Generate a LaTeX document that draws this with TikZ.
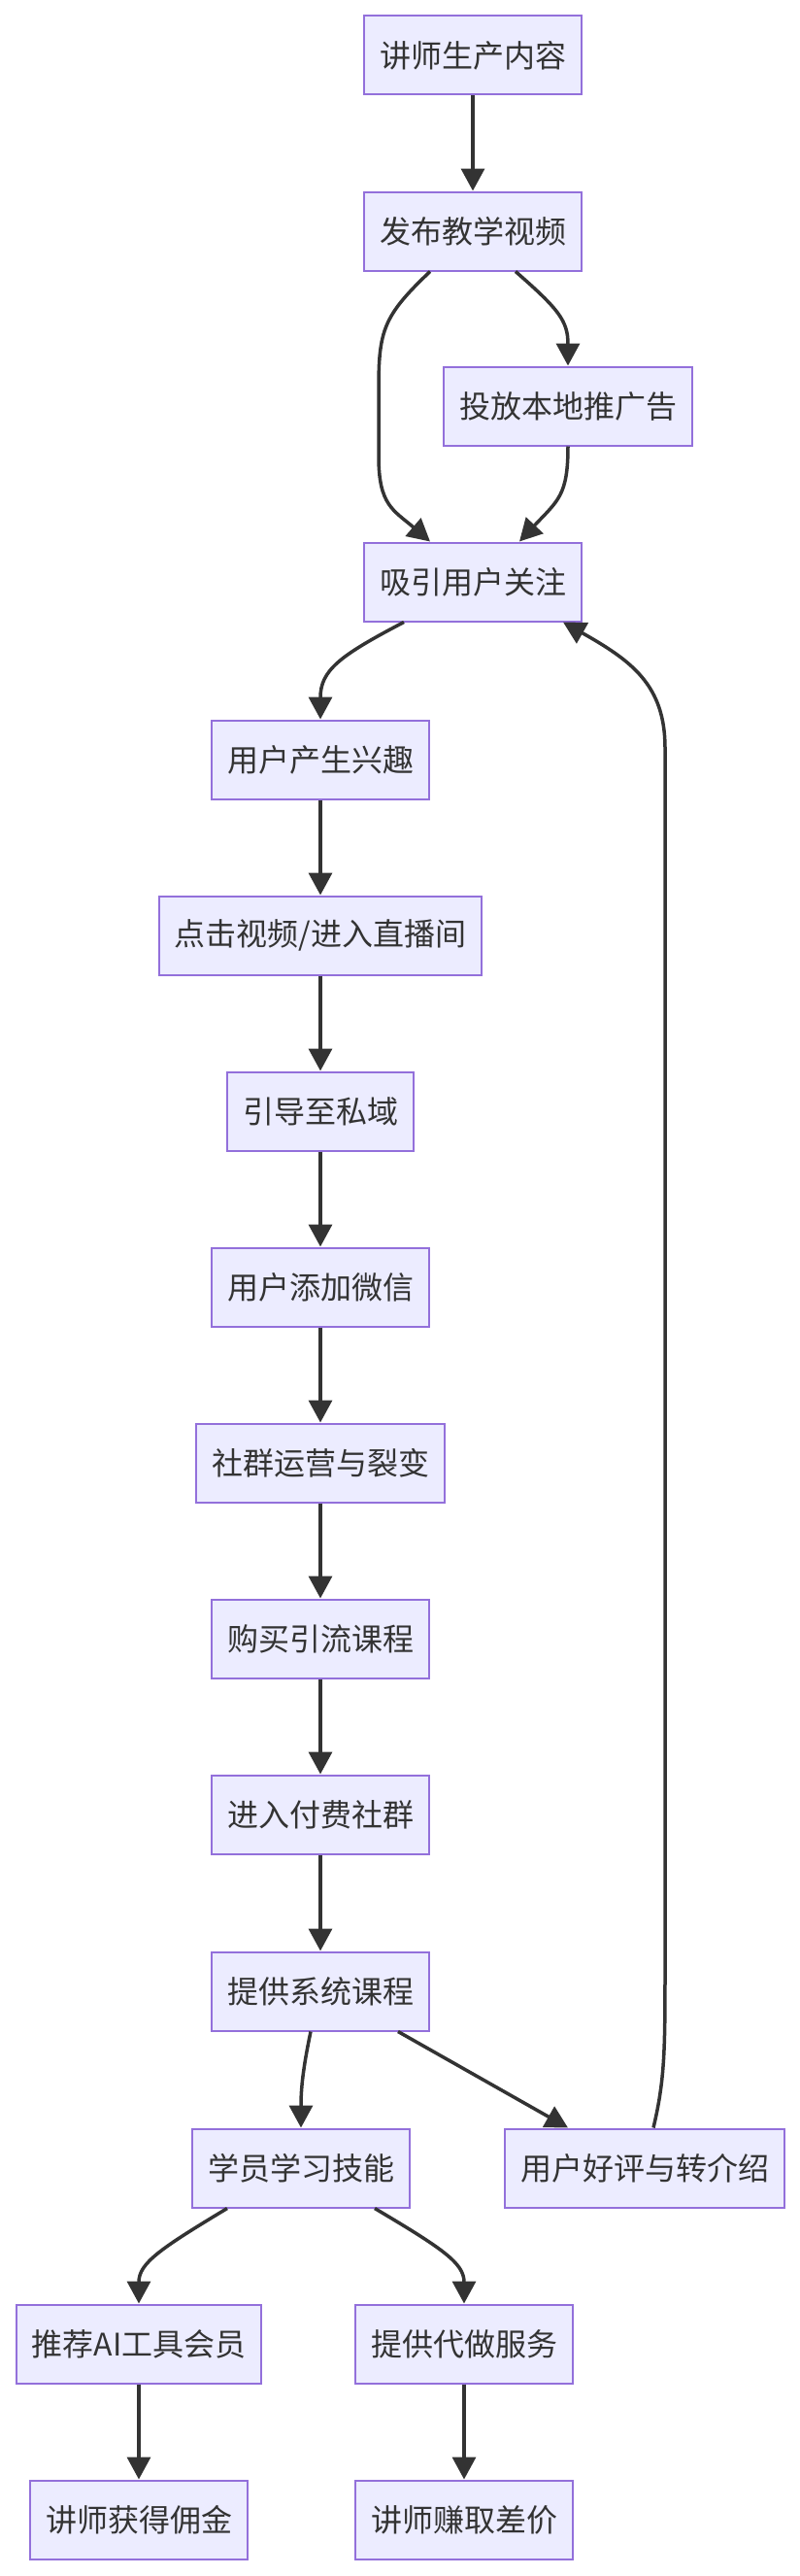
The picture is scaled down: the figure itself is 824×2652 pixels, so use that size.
\documentclass[tikz,border=0pt]{standalone}
\usepackage{fontspec}
\setmainfont{Noto Sans CJK SC}
\usetikzlibrary{arrows.meta}
\definecolor{nodefill}{HTML}{ECECFF}
\definecolor{nodeline}{HTML}{9370DB}
\definecolor{ink}{HTML}{333333}
\begin{document}
\begin{tikzpicture}[x=1pt,y=-1pt,
  box/.style={draw=nodeline, fill=nodefill, line width=2pt, inner xsep=16pt, inner ysep=0pt,
    minimum height=81pt, text=ink, font=\fontsize{32}{38}\selectfont},
  conn/.style={draw=ink, line width=3.5pt, -{Triangle[length=23pt,width=24pt]}}]
\useasboundingbox[fill=white] (0,0) rectangle (824,2652);
\node[box] (n1) at (487,57) {讲师生产内容};
\node[box] (n2) at (487,238) {发布教学视频};
\node[box] (n3) at (585,418) {投放本地推广告};
\node[box] (n4) at (487,599) {吸引用户关注};
\node[box] (n5) at (330,782) {用户产生兴趣};
\node[box] (n6) at (330,963) {点击视频/进入直播间};
\node[box] (n7) at (330,1144) {引导至私域};
\node[box] (n8) at (330,1325) {用户添加微信};
\node[box] (n9) at (330,1506) {社群运营与裂变};
\node[box] (n10) at (330,1687) {购买引流课程};
\node[box] (n11) at (330,1868) {进入付费社群};
\node[box] (n12) at (330,2050) {提供系统课程};
\node[box] (n13) at (310,2232) {学员学习技能};
\node[box] (n14) at (664,2232) {用户好评与转介绍};
\node[box] (n15) at (143,2413) {推荐AI工具会员};
\node[box] (n16) at (478,2413) {提供代做服务};
\node[box] (n17) at (143,2594) {讲师获得佣金};
\node[box] (n18) at (478,2594) {讲师赚取差价};

\draw[conn] (n1) -- (n2);
\draw[conn] ([xshift=-44pt]n2.south) .. controls (395,325) and (390,340) .. (390,400)
  -- (390,470) .. controls (390,520) and (405,525) .. ([xshift=-44pt]n4.north);
\draw[conn] ([xshift=44pt]n2.south) .. controls (575,318) and (585,330) .. (n3.north);
\draw[conn] (n3.south) .. controls (585,510) and (575,515) .. ([xshift=48pt]n4.north);
\draw[conn] ([xshift=-71pt]n4.south) .. controls (350,675) and (330,690) .. (n5.north);
\draw[conn] (n5) -- (n6);
\draw[conn] (n6) -- (n7);
\draw[conn] (n7) -- (n8);
\draw[conn] (n8) -- (n9);
\draw[conn] (n9) -- (n10);
\draw[conn] (n10) -- (n11);
\draw[conn] (n11) -- (n12);
\draw[conn] ([xshift=-10pt]n12.south) .. controls (312,2130) and (310,2150) .. (n13.north);
\draw[conn] ([xshift=80pt]n12.south) -- ([xshift=-79pt]n14.north);
\draw[conn] ([xshift=9pt]n14.north) .. controls (685,2140) and (685,2110) .. (685,2020)
  -- (685,770) .. controls (685,705) and (650,680) .. ([xshift=93pt]n4.south);
\draw[conn] ([xshift=-76pt]n13.south) .. controls (165,2315) and (143,2330) .. (n15.north);
\draw[conn] ([xshift=76pt]n13.south) .. controls (456,2315) and (478,2330) .. (n16.north);
\draw[conn] (n15) -- (n17);
\draw[conn] (n16) -- (n18);
\end{tikzpicture}
\end{document}
